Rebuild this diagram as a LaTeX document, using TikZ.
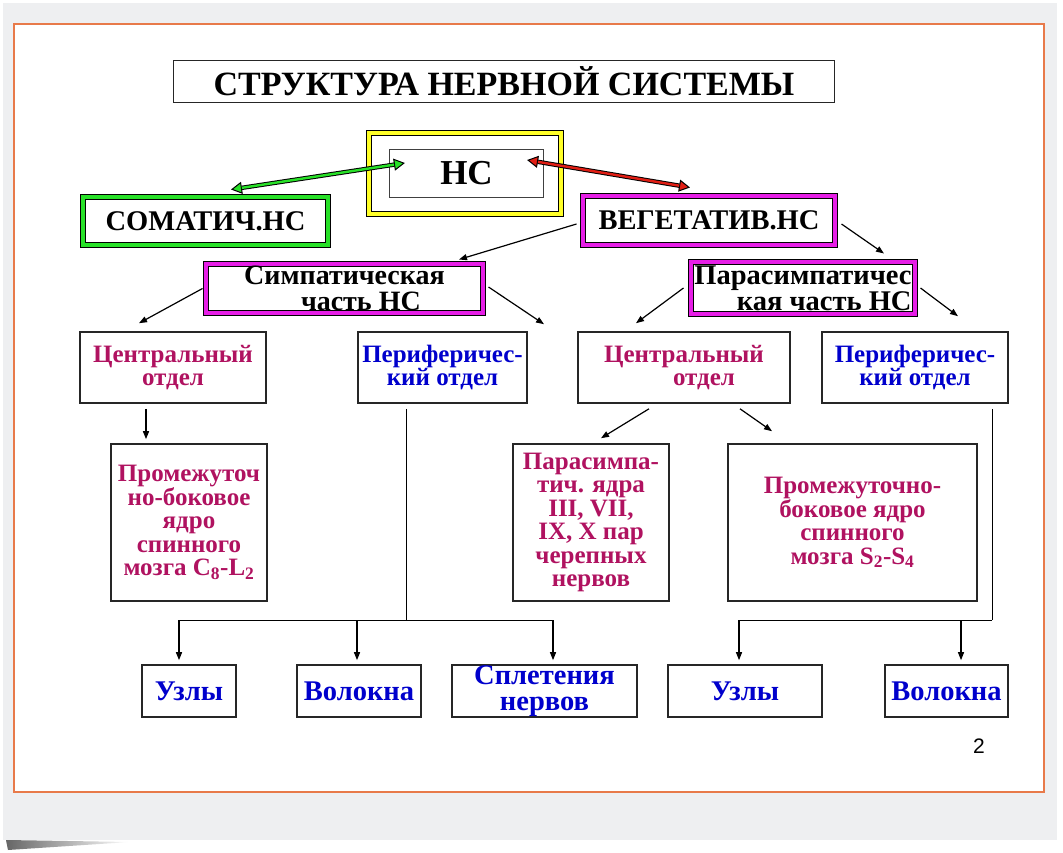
\documentclass[tikz,border=0pt]{standalone}
\usepackage{fontspec}
\setmainfont{Liberation Serif}
\newfontfamily\numfont{Liberation Sans}
\usetikzlibrary{arrows.meta}
\definecolor{crim}{RGB}{176,18,96}
\definecolor{blu}{RGB}{0,0,204}
\definecolor{mag}{RGB}{230,30,230}
\definecolor{grn}{RGB}{40,225,40}
\definecolor{yel}{RGB}{255,255,40}
\definecolor{arred}{RGB}{225,30,20}
\definecolor{org}{RGB}{232,122,74}
\definecolor{card}{RGB}{238,239,241}

\begin{document}
\begin{tikzpicture}[x=1pt, y=-1pt,
  box/.style={draw=black!85, line width=1.6pt, fill=white, align=center, inner sep=0pt, font=\bfseries\fontsize{25}{23.5}\selectfont},
  dbox/.style={draw=black, line width=1pt, double=#1, double distance=4pt, fill=white, align=center, inner sep=0pt, font=\bfseries\fontsize{28.5}{24}\selectfont},
  bot/.style={box, text=blu, minimum height=52pt, font=\bfseries\fontsize{28.5}{26}\selectfont},
  arr/.style={-{Triangle[length=8pt,width=6pt]}, line width=1.2pt}]
  \useasboundingbox (0,0) rectangle (1063,853);
  \fill[card] (3,3) rectangle (1057,840);
  \shade[left color=black!60, right color=white] (6,840) -- (130,842) -- (8,850) -- cycle;
  \draw[org, line width=1.5pt, fill=white] (14,24) rectangle (1044,792);

  \node[box, line width=1.4pt, minimum width=661pt, minimum height=42pt, font=\bfseries\fontsize{34}{34}\selectfont] (t) at (504,81.5) {СТРУКТУРА НЕРВНОЙ СИСТЕМЫ};

  \node[dbox=yel, minimum width=192pt, minimum height=81pt] (nsf) at (465,173.5) {};
  \node[box, line width=1.2pt, draw=black!75, minimum width=154pt, minimum height=48pt, font=\bfseries\fontsize{35}{35}\selectfont] (ns) at (466.5,173.5) {НС};
  \node[dbox=grn, minimum width=245pt, minimum height=48pt] (som) at (205.5,221) {СОМАТИЧ.НС};
  \node[dbox=mag, minimum width=252pt, minimum height=49pt] (veg) at (709,220.5) {ВЕГЕТАТИВ.НС};
  \node[dbox=mag, align=right, minimum width=277pt, minimum height=49pt, font=\bfseries\fontsize{28}{26}\selectfont] (sym) at (344.5,288.5) {Симпатическая\\часть НС\hspace*{24pt}};
  \node[dbox=mag, align=right, minimum width=224pt, minimum height=52pt] (par) at (803,288) {Парасимпатичес\\кая часть НС};

  \node[box, text=crim, minimum width=186pt, minimum height=71pt] (c1) at (173,367.5) {Центральный\\отдел};
  \node[box, text=blu, minimum width=169pt, minimum height=71pt] (p1) at (442.5,367.5) {Периферичес-\\кий отдел};
  \node[box, text=crim, minimum width=212pt, minimum height=71pt] (c2) at (684,367.5) {Центральный\\\hspace*{40pt}отдел};
  \node[box, text=blu, minimum width=186pt, minimum height=71pt] (p2) at (915,367.5) {Периферичес-\\кий отдел};

  \node[box, text=crim, minimum width=156pt, minimum height=157pt] (m1) at (189,522.5) {Промежуточ\\но-боковое\\ядро\\спинного\\мозга C\textsubscript{8}-L\textsubscript{2}};
  \node[box, text=crim, minimum width=156pt, minimum height=157pt] (pj) at (591,522.5) {Парасимпа-\\тич. ядра\\III, VII,\\IX, X пар\\черепных\\нервов};
  \node[box, text=crim, minimum width=249pt, minimum height=157pt] (m2) at (852.5,522.5) {Промежуточно-\\боковое ядро\\спинного\\мозга S\textsubscript{2}-S\textsubscript{4}};

  \node[bot, minimum width=94pt] (b1) at (189,691) {Узлы};
  \node[bot, minimum width=124pt] (b2) at (359,691) {Волокна};
  \node[bot, minimum width=185pt] (b3) at (544.5,691) {Сплетения\\нервов};
  \node[bot, minimum width=154pt] (b4) at (745,691) {Узлы};
  \node[bot, minimum width=123pt] (b5) at (946.5,691) {Волокна};

  \node[font=\numfont\fontsize{21}{21}\selectfont] (pg) at (979,746) {2};

  \draw[line width=4.4pt, {Triangle[fill=grn, line width=1pt, length=11pt, width=12pt]}-{Triangle[fill=grn, line width=1pt, length=11pt, width=12pt]}] ([xshift=25.5pt,yshift=7pt]som.north) -- ([xshift=16pt,yshift=10.5pt]ns.west);
  \draw[grn, line width=2.4pt, shorten <=11pt, shorten >=11pt] ([xshift=25.5pt,yshift=7pt]som.north) -- ([xshift=16pt,yshift=10.5pt]ns.west);
  \draw[line width=4.4pt, {Triangle[fill=arred, line width=1pt, length=11pt, width=12pt]}-{Triangle[fill=arred, line width=1pt, length=11pt, width=12pt]}] ([xshift=-17pt,yshift=13.5pt]ns.east) -- ([xshift=-19pt,yshift=8pt]veg.north);
  \draw[arred, line width=2.4pt, shorten <=11pt, shorten >=11pt] ([xshift=-17pt,yshift=13.5pt]ns.east) -- ([xshift=-19pt,yshift=8pt]veg.north);

  \draw[arr] ([xshift=-6pt,yshift=-3.5pt]veg.west) -- ([xshift=114.5pt,yshift=4pt]sym.north);
  \draw[arr] ([xshift=6pt,yshift=-3.5pt]veg.east) -- ([xshift=81pt,yshift=8pt]par.north);
  \draw[arr] ([xshift=-3pt]sym.west) -- ([xshift=-34pt,yshift=8pt]c1.north);
  \draw[arr] ([xshift=5pt,yshift=1.5pt]sym.east) -- ([xshift=101.5pt,yshift=7pt]p1.north);
  \draw[arr] ([xshift=-7pt]par.west) -- ([xshift=-48pt,yshift=8pt]c2.north);
  \draw[arr] ([xshift=5pt]par.east) -- ([xshift=43pt,yshift=15pt]p2.north);
  \draw[arr] ([xshift=-27pt,yshift=-5pt]c1.south) -- ([xshift=-43pt,yshift=4pt]m1.north);
  \draw[arr] ([xshift=-35pt,yshift=-5pt]c2.south) -- ([xshift=10pt,yshift=5pt]pj.north);
  \draw[arr] ([xshift=56pt,yshift=-5pt]c2.south) -- ([xshift=-80.5pt,yshift=12pt]m2.north);

  \coordinate (j1) at (406,620);
  \coordinate (l1) at (179,620);
  \coordinate (l2) at (357,620);
  \coordinate (l3) at (553,620);
  \draw[line width=1pt, shorten <=5pt] (p1.south -| j1) -- (j1);
  \draw[line width=1pt] (l1) -- (l3);
  \foreach \a/\b in {l1/b1, l2/b2, l3/b3}
    \draw[arr, shorten >=4pt] (\a) -- (\a |- \b.north);

  \coordinate (j2) at (992,620);
  \coordinate (r1) at (739,620);
  \coordinate (r2) at (961,620);
  \draw[line width=1pt, shorten <=5pt] (p2.south -| j2) -- (j2);
  \draw[line width=1pt] (r1) -- (j2);
  \foreach \a/\b in {r1/b4, r2/b5}
    \draw[arr, shorten >=4pt] (\a) -- (\a |- \b.north);
\end{tikzpicture}
\end{document}
